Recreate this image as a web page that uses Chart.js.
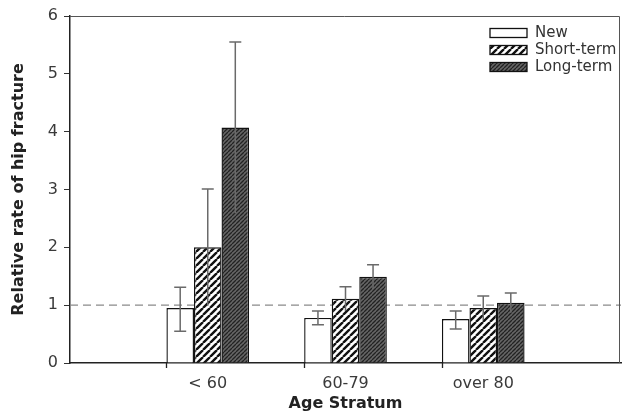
<!DOCTYPE html>
<html>
<head>
<meta charset="utf-8">
<script src="https://cdn.jsdelivr.net/npm/chart.js@4"></script>
<style>
  html, body { margin: 0; padding: 0; background: #fff; }
  #wrap { width: 623px; height: 415px; }
</style>
</head>
<body>
<div id="wrap"><canvas id="grafico"></canvas></div>
<script>
// categorias e valores
const categorias = ["< 60", "60-79", "over 80"];
const yTicks = [0, 1, 2, 3, 4, 5, 6];

const novo = [0.95, 0.78, 0.76];
const novoLo = [0.55, 0.66, 0.59];
const novoHi = [1.31, 0.90, 0.90];

const curto = [2.00, 1.11, 0.95];
const curtoLo = [0.99, 0.90, 0.74];
const curtoHi = [3.01, 1.32, 1.16];

const longo = [4.07, 1.49, 1.04];
const longoLo = [2.59, 1.28, 0.87];
const longoHi = [5.55, 1.70, 1.21];

const referencia = 1;

const fonte = "'DejaVu Sans', Verdana, sans-serif";

// padrões de hachura
function hachura(fundo, cor, passo, largura) {
  const c = document.createElement("canvas");
  c.width = passo; c.height = passo;
  const g = c.getContext("2d");
  g.fillStyle = fundo;
  g.fillRect(0, 0, passo, passo);
  g.strokeStyle = cor;
  g.lineWidth = largura;
  g.beginPath();
  for (let k = -1; k <= 1; k++) {
    g.moveTo(k * passo, passo);
    g.lineTo(k * passo + passo, 0);
  }
  g.stroke();
  return g.createPattern(c, "repeat");
}
const padCurto = hachura("#ffffff", "#111111", 7, 2.4);
const padLongo = hachura("#666666", "#222222", 4, 1.3);

// eixo com categorias vazias nas pontas
const rotulos = ["", ...categorias, ""];
const pad = arr => [null, ...arr, null];

const erros = [
  { lo: novoLo, hi: novoHi },
  { lo: curtoLo, hi: curtoHi },
  { lo: longoLo, hi: longoHi }
];

const pluginExtras = {
  id: "extras",
  beforeDatasetsDraw(chart) {
    const { ctx, chartArea: a, scales: { y } } = chart;
    const py = y.getPixelForValue(referencia);
    ctx.save();
    ctx.strokeStyle = "#8a8a8a";
    ctx.lineWidth = 1.3;
    ctx.setLineDash([8, 5]);
    ctx.beginPath();
    ctx.moveTo(a.left, py);
    ctx.lineTo(a.right, py);
    ctx.stroke();
    ctx.restore();
  },
  afterDatasetsDraw(chart) {
    const { ctx, chartArea: a, scales: { y } } = chart;
    ctx.save();
    // barras de erro
    ctx.strokeStyle = "#6a6a6a";
    ctx.lineWidth = 1.5;
    erros.forEach((e, i) => {
      chart.getDatasetMeta(i).data.forEach((bar, j) => {
        const k = j - 1;
        if (k < 0 || k >= categorias.length) return;
        const px = bar.x;
        const top = y.getPixelForValue(e.hi[k]);
        const bot = y.getPixelForValue(e.lo[k]);
        ctx.beginPath();
        ctx.moveTo(px, top); ctx.lineTo(px, bot);
        ctx.moveTo(px - 6, top); ctx.lineTo(px + 6, top);
        if (i === 0) { ctx.moveTo(px - 6, bot); ctx.lineTo(px + 6, bot); }
        ctx.stroke();
      });
    });
    // moldura
    const dir = a.right - 1.5;
    ctx.strokeStyle = "#555";
    ctx.lineWidth = 1;
    ctx.beginPath();
    ctx.moveTo(a.left, a.top + 0.5);
    ctx.lineTo(dir, a.top + 0.5);
    ctx.lineTo(dir, a.bottom);
    ctx.stroke();
    // marcas do eixo x no início de cada grupo
    ctx.strokeStyle = "#222";
    ctx.lineWidth = 1.3;
    const meta = chart.getDatasetMeta(0);
    ctx.beginPath();
    for (let j = 1; j <= categorias.length; j++) {
      const b = meta.data[j];
      const px = Math.round(b.x - b.width / 2) + 0.5;
      ctx.moveTo(px, a.bottom);
      ctx.lineTo(px, a.bottom + 5);
    }
    ctx.stroke();
    // legenda
    ctx.font = "15px " + fonte;
    ctx.textBaseline = "middle";
    chart.data.datasets.forEach((ds, i) => {
      const cy = 33 + i * 17;
      ctx.fillStyle = ds.backgroundColor;
      ctx.fillRect(490, cy - 4.5, 37, 9);
      ctx.strokeStyle = "#111";
      ctx.lineWidth = 1.3;
      ctx.strokeRect(490, cy - 4.5, 37, 9);
      ctx.fillStyle = "#333";
      ctx.fillText(ds.label, 535, cy);
    });
    ctx.restore();
  }
};

new Chart(document.getElementById("grafico"), {
  type: "bar",
  data: {
    labels: rotulos,
    datasets: [
      { label: "New", data: pad(novo), backgroundColor: "#ffffff" },
      { label: "Short-term", data: pad(curto), backgroundColor: padCurto },
      { label: "Long-term", data: pad(longo), backgroundColor: padLongo }
    ].map(d => Object.assign(d, {
      borderColor: "#111",
      borderWidth: 1.4,
      categoryPercentage: 0.6,
      barPercentage: 1.0
    }))
  },
  options: {
    responsive: true,
    maintainAspectRatio: false,
    animation: false,
    layout: { padding: { top: 16, right: 2, left: 0, bottom: 0 } },
    plugins: { legend: { display: false }, tooltip: { enabled: false } },
    scales: {
      x: {
        offset: false,
        grid: { display: false, drawTicks: false },
        border: { color: "#222", width: 1.5 },
        ticks: { color: "#3a3a3a", padding: 11, font: { size: 16, family: fonte } },
        title: { display: true, text: "Age Stratum", color: "#222", padding: { top: 0, bottom: 2 },
          font: { size: 16, weight: "bold", family: fonte } },
        afterFit: s => { s.height = 52; s.paddingLeft = 0; s.paddingRight = 0; }
      },
      y: {
        min: 0, max: 6,
        afterBuildTicks: s => { s.ticks = yTicks.map(v => ({ value: v })); },
        grid: { drawOnChartArea: false, drawTicks: true, tickLength: 6, color: "#333" },
        border: { color: "#222", width: 1.5 },
        ticks: { color: "#3a3a3a", padding: 6, font: { size: 16, family: fonte } },
        title: { display: true, text: "Relative rate of hip fracture", color: "#222", padding: { top: 9, bottom: 0 },
          font: { size: 16, weight: "bold", family: fonte } },
        afterFit: s => { s.width = 70; }
      }
    }
  },
  plugins: [pluginExtras]
});
</script>
</body>
</html>
